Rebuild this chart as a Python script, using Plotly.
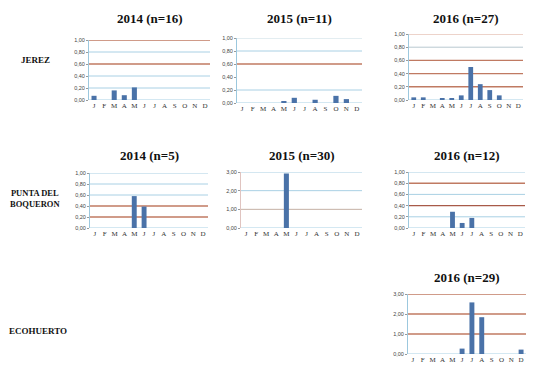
import plotly.graph_objects as go

W, H = 538, 383
OFF = 8  # page body margin compensation
months = ["J", "F", "M", "A", "M", "J", "J", "A", "S", "O", "N", "D"]

# values per panel (12 months)
jerez_2014 = [0.07, 0, 0.16, 0.08, 0.21, 0, 0, 0, 0, 0, 0, 0]
jerez_2015 = [0, 0, 0, 0, 0.02, 0.08, 0, 0.05, 0, 0.11, 0.06, 0]
jerez_2016 = [0.04, 0.04, 0, 0.02, 0.02, 0.07, 0.50, 0.24, 0.15, 0.07, 0, 0]
pdb_2014 = [0, 0, 0, 0, 0.58, 0.39, 0, 0, 0, 0, 0, 0]
pdb_2015 = [0, 0, 0, 0, 2.92, 0, 0, 0, 0, 0, 0, 0]
pdb_2016 = [0, 0, 0, 0, 0.29, 0.09, 0.18, 0, 0, 0, 0, 0]
eco_2016 = [0, 0, 0, 0, 0, 0.27, 2.58, 1.84, 0, 0, 0, 0.22]

titles = ["2014 (n=16)", "2015 (n=11)", "2016 (n=27)",
          "2014 (n=5)", "2015 (n=30)", "2016 (n=12)", "2016 (n=29)"]
row_labels = ["JEREZ", "PUNTA DEL<br>BOQUERON", "ECOHUERTO"]

ticks_1 = [0, 0.2, 0.4, 0.6, 0.8, 1.0]
ticks_3 = [0, 1, 2, 3]

R = "#c07a62"   # brownish red lines
B = "#a9d0e4"   # light blue lines
N = "rgba(0,0,0,0)"

panels = [
    # values, ticks, line colours per tick, plot box in px (x0, x1, y_top, y_bottom)
    dict(v=jerez_2014, t=ticks_1, c=[B, B, B, R, B, R], box=(89, 210, 40, 100)),
    dict(v=jerez_2015, t=ticks_1, c=[B, B, N, R, B, "#c8dbe4"], box=(237, 362, 38, 103)),
    dict(v=jerez_2016, t=ticks_1, c=[B, R, R, R, "#b8c8d0", "#dca896"], box=(409, 523, 34, 100)),
    dict(v=pdb_2014, t=ticks_1, c=[B, R, R, B, B, B], box=(90, 208, 173, 228)),
    dict(v=pdb_2015, t=ticks_3, c=[B, "#c4b0a4", B, B], box=(241, 362, 172, 228)),
    dict(v=pdb_2016, t=ticks_1, c=[B, B, "#a85a48", B, R, B], box=(409, 525, 172, 228)),
    dict(v=eco_2016, t=ticks_3, c=[B, R, R, R], box=(408, 526, 294, 354)),
]


def px(x):
    return (x - OFF) / W


def py(y):
    return 1 - (y - OFF) / H


fig = go.Figure()
layout = {}
shapes = []
annotations = []
title_y = [18, 18, 18, 155, 155, 155, 277]

for i, p in enumerate(panels):
    k = "" if i == 0 else str(i + 1)
    x0, x1, yt, yb = p["box"]
    fig.add_trace(go.Bar(
        x=list(range(12)), y=p["v"], marker_color="#4a72a8",
        marker_line_width=0, width=0.5,
        xaxis="x" + k, yaxis="y" + k, showlegend=False,
    ))
    layout["xaxis" + k] = dict(
        domain=[px(x0), px(x1)], anchor="y" + k, range=[-0.5, 11.5],
        tickvals=list(range(12)), ticktext=months, showgrid=False,
        zeroline=False, showline=False, ticks="", automargin=False,
        tickfont=dict(family="Liberation Serif", size=7, color="#333"),
        fixedrange=True,
    )
    layout["yaxis" + k] = dict(
        domain=[py(yb), py(yt)], anchor="x" + k,
        range=[0, max(p["t"])], tickvals=p["t"], tickformat=".2f",
        showgrid=False, zeroline=False, showline=True, automargin=False,
        linecolor="#9cc8de" if i != 4 else "#e0c4c0", linewidth=1,
        ticks="outside", ticklen=2, tickcolor="#999",
        tickfont=dict(family="Liberation Sans", size=5.5, color="#444"),
        fixedrange=True,
    )
    for tv, col in zip(p["t"], p["c"]):
        shapes.append(dict(type="line", xref="x" + k + " domain", yref="y" + k,
                           x0=0, x1=1, y0=tv, y1=tv,
                           line=dict(color=col, width=1.4 if col in (R, "#a85a48") else 1),
                           layer="below"))
    annotations.append(dict(text="<b>" + titles[i] + "</b>", xref="paper", yref="paper",
                            x=px((x0 + x1) / 2), y=py(title_y[i]),
                            xanchor="center", yanchor="middle",
                            showarrow=False,
                            font=dict(family="Liberation Serif", size=13, color="#111")))

for lab, xx, yy, fs in zip(row_labels, [35, 35, 38], [60, 199, 331], [9, 8.5, 9]):
    annotations.append(dict(text="<b>" + lab + "</b>", xref="paper", yref="paper",
                            x=px(xx), y=py(yy), showarrow=False, align="center",
                            xanchor="center", yanchor="middle",
                            font=dict(family="Liberation Serif", size=fs, color="#111")))

fig.update_layout(
    width=W, height=H, margin=dict(l=0, r=0, t=0, b=0),
    paper_bgcolor="white", plot_bgcolor="white",
    separators=",.", bargap=0.5,
    shapes=shapes, annotations=annotations, **layout,
)
fig.write_html("out.html")
